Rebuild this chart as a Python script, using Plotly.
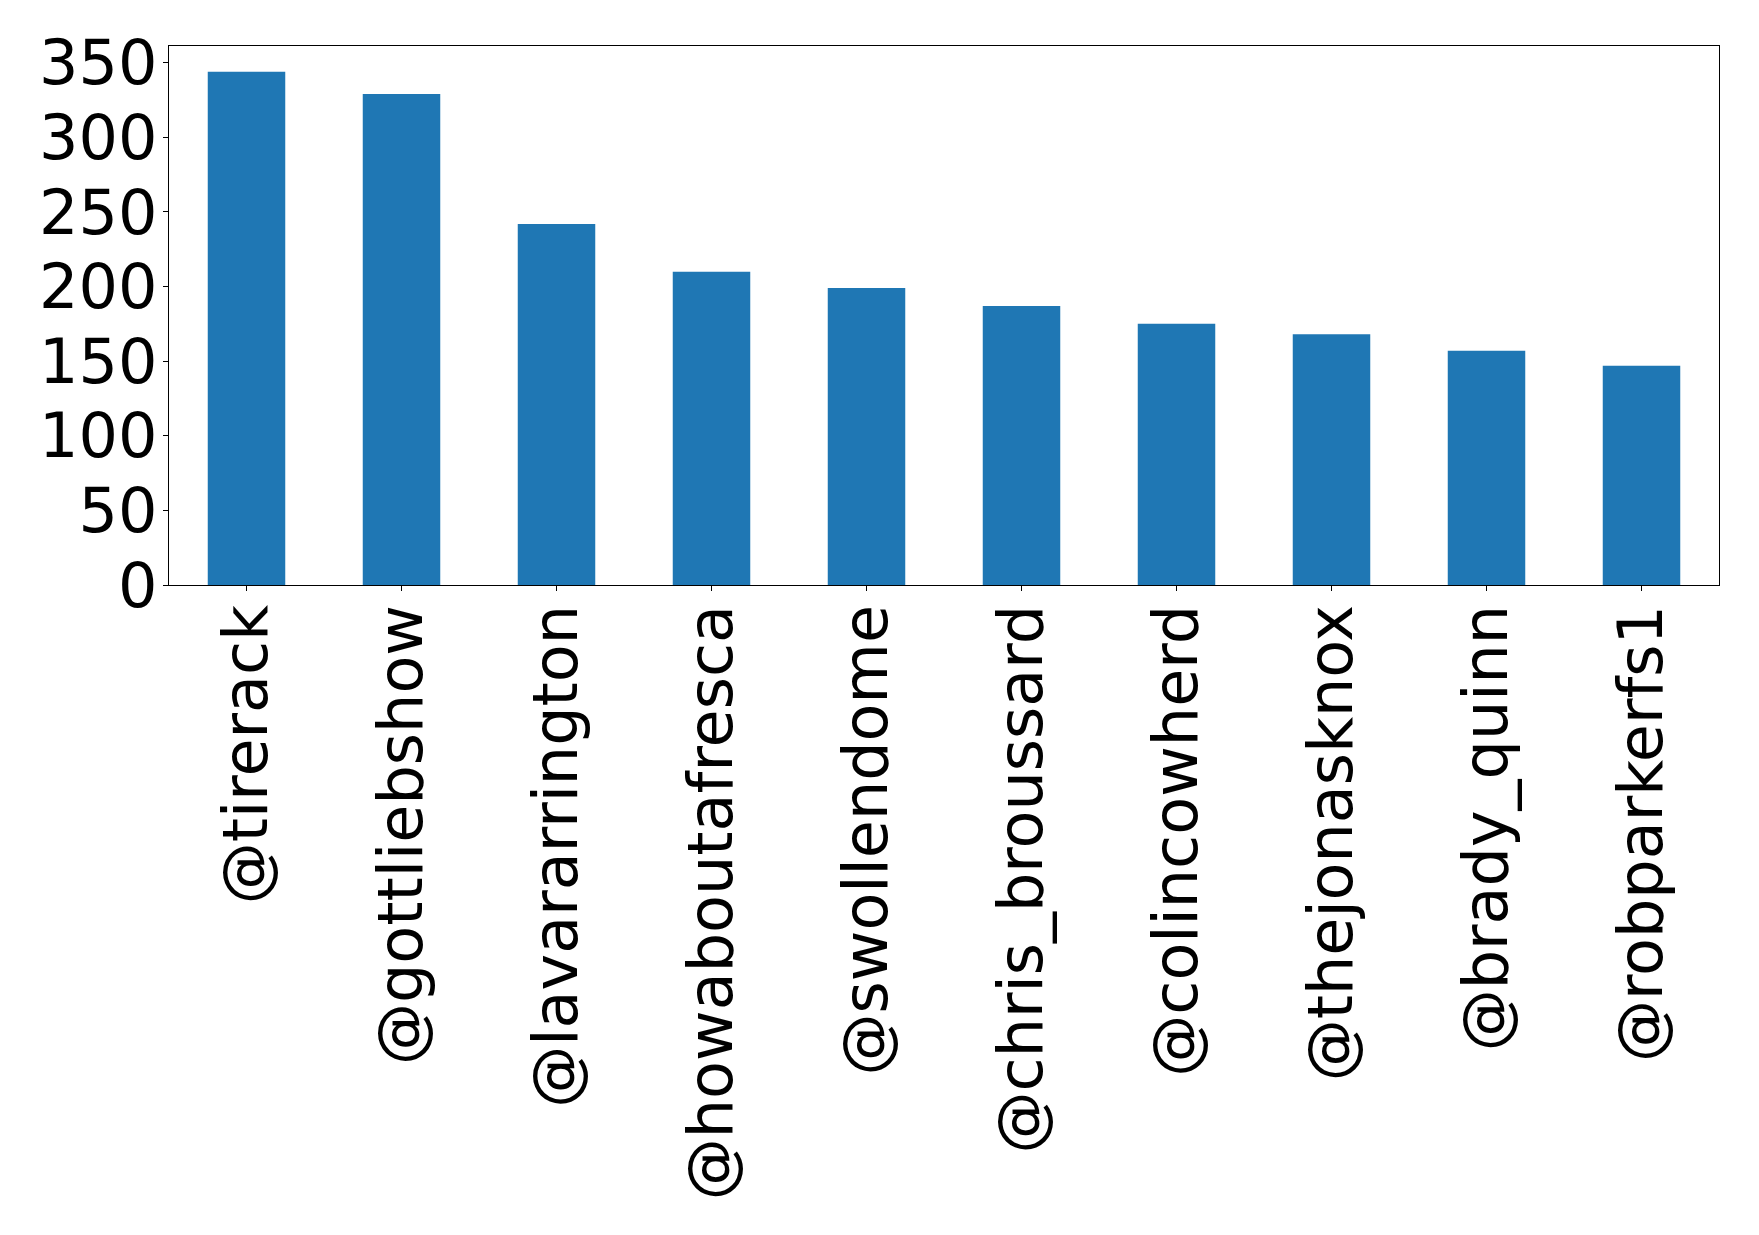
import plotly.graph_objects as go

users = ["@tirerack", "@gottliebshow", "@lavararrington", "@howaboutafresca",
         "@swollendome", "@chris_broussard", "@colincowherd", "@thejonasknox",
         "@brady_quinn", "@robparkerfs1"]
counts = [344, 329, 242, 210, 199, 187, 175, 168, 157, 147]
y_ticks = [0, 50, 100, 150, 200, 250, 300, 350]

fig = go.Figure(go.Bar(x=list(range(len(users))), y=counts, marker_color="#1f77b4",
                       marker_line_width=0, width=0.5))

font = dict(family="DejaVu Sans", size=62, color="black")
fig.update_layout(
    width=1759, height=1235,
    margin=dict(l=161, r=48, t=38, b=658, autoexpand=False),
    paper_bgcolor="white", plot_bgcolor="white",
    showlegend=False,
    font=font,
)
fig.update_xaxes(
    range=[-0.5, len(users) - 0.5], tickmode="array",
    tickvals=list(range(len(users))), ticktext=users, tickangle=-90,
    ticks="outside", ticklen=5, tickwidth=1.3, tickcolor="black",
    showline=True, linecolor="black", linewidth=1.3, mirror=True,
    showgrid=False, zeroline=False, tickfont=font, automargin=False,
    ticklabelstandoff=-11,
)
fig.update_yaxes(
    range=[0, 361.2], tickmode="array", tickvals=y_ticks,
    ticks="outside", ticklen=5, tickwidth=1.3, tickcolor="black",
    showline=True, linecolor="black", linewidth=1.3, mirror=True,
    showgrid=False, zeroline=False, tickfont=font, automargin=False,
    ticklabelstandoff=-7,
)
fig.write_html("out.html")
